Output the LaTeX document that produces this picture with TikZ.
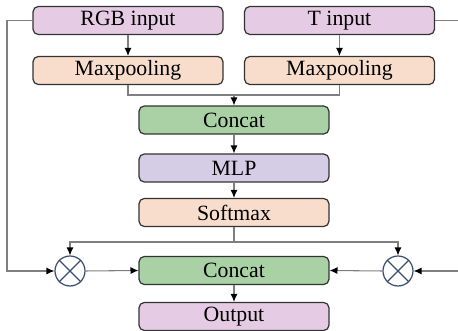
\documentclass[tikz,border=0pt]{standalone}
\usepackage{fontspec}
\setmainfont{Liberation Serif}
\usepackage{tikz}
\usetikzlibrary{calc}
\usetikzlibrary{arrows.meta}

\definecolor{inpink}{HTML}{E5CCE4}
\definecolor{poolpeach}{HTML}{F8DDCD}
\definecolor{catgreen}{HTML}{A9D1A5}
\definecolor{mlpblue}{HTML}{D5CDE6}
\definecolor{edgegray}{HTML}{7F7F7F}
\definecolor{mulblue}{HTML}{3A4E72}

\tikzset{
  block/.style={draw=black!80, line width=0.7pt, rounded corners=3pt,
    minimum width=3.8cm, minimum height=0.56cm, inner sep=0pt,
    font=\fontsize{12.4}{14}\selectfont},
  link/.style={draw=edgegray, line width=0.6pt},
  arr/.style={link, -{Latex[length=4.5pt, width=4pt, black]}},
  mul/.style={draw=mulblue, line width=0.7pt, circle, minimum size=0.6cm, inner sep=0pt}
}

\begin{document}
\begin{tikzpicture}[x=0.02cm, y=-0.02cm]
\useasboundingbox (0,0) rectangle (458,331);
\def \cx {234} % centre column

\node[block, fill=inpink] (rgb) at (128,20.5) {RGB input};
\node[block, fill=inpink] (tin) at (339.5,20.5) {T input};
\node[block, fill=poolpeach] (poolrgb) at (128,70.5) {Maxpooling};
\node[block, fill=poolpeach] (poolt) at (339.5,70.5) {Maxpooling};
\node[block, fill=catgreen] (cat) at (\cx,120) {Concat};
\node[block, fill=mlpblue] (mlp) at (\cx,168) {MLP};
\node[block, fill=poolpeach] (soft) at (\cx,212.5) {Softmax};
\node[block, fill=catgreen] (catout) at (\cx,270.5) {Concat};
\node[block, fill=inpink] (out) at (\cx,316.5) {Output};

\node[mul] (mulrgb) at (70,271) {};
\node[mul] (mult) at (398,271) {};
\foreach \m in {mulrgb, mult}
{
  \draw[mulblue, line width=0.7pt] (\m.45) -- (\m.225) (\m.135) -- (\m.315);
}

\coordinate (join) at (\cx,95);
\coordinate (split) at (\cx,242);
\coordinate (leftbus) at (7,20.5);
\coordinate (rightbus) at (462,20.5);

% main column
\draw[arr] (rgb) -- (poolrgb);
\draw[arr] (tin) -- (poolt);
\draw[link] (poolrgb.south) |- (join);
\draw[link] (poolt.south) |- (join);
\draw[arr] (join) -- (cat);
\draw[arr] (cat) -- (mlp);
\draw[arr] (mlp) -- (soft);
\draw[link] (soft.south) -- (split);
\draw[arr] (split) -| (mulrgb.north);
\draw[arr] (split) -| (mult.north);
\draw[arr] (catout) -- (out);

% skip branches
\draw[arr] (rgb.west) -- (leftbus) |- (mulrgb.west);
\draw[arr] (tin.east) -- (rightbus) |- (mult.east);
\draw[arr] (mulrgb.east) -- (catout.west);
\draw[arr] (mult.west) -- (catout.east);
\end{tikzpicture}
\end{document}
